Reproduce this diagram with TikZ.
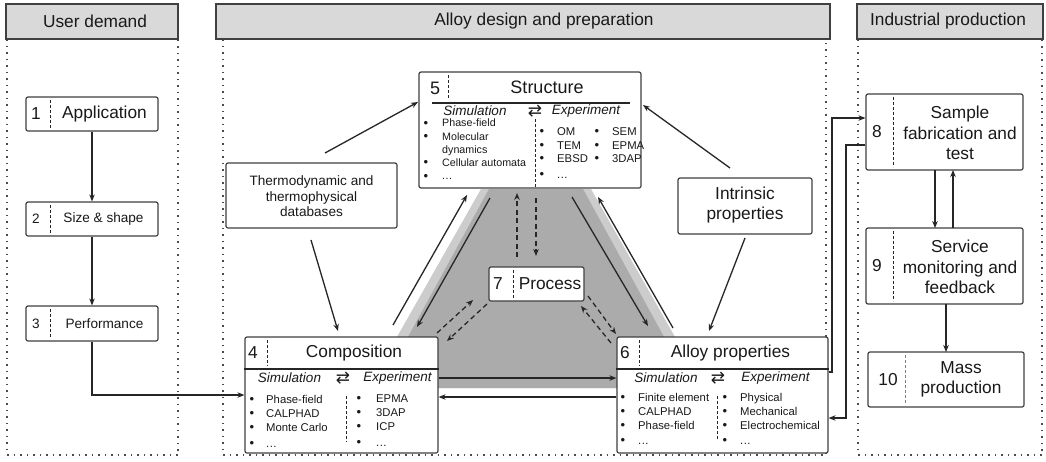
\documentclass[tikz,border=0pt]{standalone}
\usepackage{fontspec}
\setmainfont{Liberation Sans}
\newfontfamily\symfnt{DejaVu Sans}
\usetikzlibrary{arrows.meta,calc}
\newcommand\fsT{\fontsize{17.3}{20.5}\selectfont}
\newcommand\fsM{\fontsize{13.6}{15.5}\selectfont}
\newcommand\fsL{\fontsize{11.3}{13}\selectfont}
\newcommand\fsLs{\fontsize{10.7}{12}\selectfont}
\newcommand\fsS{\fontsize{13.5}{15.5}\selectfont\itshape}
\newcommand\mydots{.\kern0.5pt.\kern0.5pt.}
\begin{document}
\begin{tikzpicture}[x=1pt,y=-1pt,
  box/.style={draw=black!75,line width=1.2pt,rounded corners=2pt,fill=white,inner sep=0pt},
  hdr/.style={draw=black!75,line width=1.2pt,fill=gray!30,inner sep=0pt,minimum height=35pt},
  arr/.style={-{Stealth[length=7pt,width=5.5pt]},line width=1.3pt,black!85},
  darr/.style={arr,dash pattern=on 5pt off 3.5pt},
  sepl/.style={black!85,line width=0.9pt,dash pattern=on 3pt off 2pt},
  dots/.style={black!70,line width=1.5pt,dash pattern=on 1.5pt off 5pt},
  txt/.style={inner sep=0pt,text=black!90},
  lt/.style={txt,anchor=west,text height=8pt,text depth=2pt,font=\fsL},
  lts/.style={txt,anchor=west,text height=7.5pt,text depth=2pt,font=\fsLs},
  bul/.style={txt,font=\fontsize{13}{13}\selectfont},
  tt/.style={txt,font=\fsT},
  sim/.style={txt,font=\fsS},
  arrsym/.style={txt,font=\symfnt\fontsize{17}{17}\selectfont}
]
\useasboundingbox (0,0) rectangle (1046,461);
\fill[white] (0,0) rectangle (1046,461);

% gray band
\fill[gray!40] (481,189) -- (591,189) -- (704,388) -- (368,388) -- cycle;
\fill[gray!66] (489,189) -- (583,189) -- (692,388) -- (380,388) -- cycle;

% dotted columns
\draw[dots] (7,39) -- (7,455) -- (178,455) -- (178,39);
\draw[dots] (223,39) -- (223,455) -- (826,455) -- (826,39);
\draw[dots] (858,39) -- (858,455) -- (1042,455) -- (1042,39);

% headers
\node[hdr,minimum width=172pt] (h1) at (92,21.5) {};
\node[tt] (h1t) at (95,21.5) {User demand};
\node[hdr,minimum width=614pt] (h2) at (523,21.5) {};
\node[tt] (h2t) at (544,21.5) {Alloy design and preparation};
\node[hdr,minimum width=186pt] (h3) at (950,21.5) {};
\node[tt] (h3t) at (948,21.5) {Industrial production};

% user demand boxes
\node[box,minimum width=132pt,minimum height=34pt] (b1) at (92,114) {};
\node[tt] (b1n) at (36,114) {1};
\draw[sepl] (50,100) -- (50,128);
\node[tt] (b1t) at (104.5,114) {Application};

\node[box,minimum width=132pt,minimum height=34pt] (b2) at (92,219) {};
\node[txt,font=\fsM] (b2n) at (36,219) {2};
\draw[sepl] (50,205) -- (50,233);
\node[txt,font=\fsM] (b2t) at (103.5,219) {Size \& shape};

\node[box,minimum width=132pt,minimum height=35pt] (b3) at (92,323.5) {};
\node[txt,font=\fsM] (b3n) at (36,323.5) {3};
\draw[sepl] (50,309) -- (50,338);
\node[txt,font=\fsM] (b3t) at (104.5,323.5) {Performance};

% thermo box
\node[box,minimum width=171pt,minimum height=65pt] (th) at (311.5,195.5) {};
\node[txt,font=\fsM,align=center] (tht) at (311.5,196.5) {Thermodynamic and\\thermophysical\\databases};

% intrinsic
\node[box,minimum width=134pt,minimum height=56pt] (ip) at (745,206) {};
\node[tt,align=center] (ipt) at (745,205) {Intrinsic\\properties};

% structure box
\node[box,minimum width=222pt,minimum height=116pt] (st) at (530,130) {};
\node[txt,font=\fontsize{18}{20}\selectfont] (stn) at (435,88) {5};
\draw[sepl] (448,75) -- (448,98);
\node[txt,font=\fontsize{18}{20}\selectfont] (stt) at (547,87) {Structure};
\draw[black!85,line width=1.1pt] (432,103) -- (630,103);
\node[sim] (sts) at (475,111) {Simulation};
\node[arrsym] (sta) at (535,111) {⇄};
\node[sim] (ste) at (586,111) {Experiment};
\draw[sepl] (535,119) -- (535,187);
\foreach \y/\t/\b [count=\i] in {124/Phase-field/1,137.5/Molecular/1,150.5/dynamics/0,163.5/Cellular automata/1,177/\mydots/1}{
  \node[lts] (stl\i) at (442,\y) {\t};
  \ifnum\b=1 \node[bul] (stb\i) at (426,\y) {•};\fi
}
\foreach \y/\t [count=\i] in {132/OM,146/TEM,159/EBSD,175/\mydots}{
  \node[lt] (str\i) at (557,\y) {\t};
  \node[bul] (strb\i) at (542,\y) {•};
}
\foreach \y/\t [count=\i] in {132/SEM,146/EPMA,159/3DAP}{
  \node[lt] (sts\i) at (612,\y) {\t};
  \node[bul] (stsb\i) at (597,\y) {•};
}

% process box
\node[box,minimum width=95pt,minimum height=34pt] (pr) at (536.5,284) {};
\node[tt] (prn) at (498,284) {7};
\draw[sepl] (513,270) -- (513,298);
\node[tt] (prt) at (550,284) {Process};

% composition box
\node[box,minimum width=193pt,minimum height=116pt] (co) at (341.5,395) {};
\node[tt] (con) at (253,353) {4};
\draw[sepl] (267,340) -- (267,366);
\node[tt] (cot) at (354,353) {Composition};
\draw[black!85,line width=1.1pt] (co.west |- 0,369) -- (co.east |- 0,369);
\node[sim] (cos) at (289.5,378) {Simulation};
\node[arrsym] (coa) at (343,378) {⇄};
\node[sim] (coe) at (397.5,378) {Experiment};
\draw[sepl] (346,396) -- (346,442);
\foreach \y/\t [count=\i] in {400/Phase-field,414/CALPHAD,428/Monte Carlo,444/\mydots}{
  \node[lt] (col\i) at (266,\y) {\t};
  \node[bul] (colb\i) at (252,\y) {•};
}
\foreach \y/\t [count=\i] in {399/EPMA,413/3DAP,427/ICP,443/\mydots}{
  \node[lt] (cor\i) at (376,\y) {\t};
  \node[bul] (corb\i) at (359,\y) {•};
}

% alloy properties box
\node[box,minimum width=211pt,minimum height=116pt] (al) at (722.5,395) {};
\node[tt] (aln) at (625,353) {6};
\draw[sepl] (639,340) -- (639,366);
\node[tt] (alt) at (730.5,353) {Alloy properties};
\draw[black!85,line width=1.1pt] (al.west |- 0,369) -- (al.east |- 0,369);
\node[sim] (als) at (666,378) {Simulation};
\node[arrsym] (ala) at (718,378) {⇄};
\node[sim] (ale) at (775.5,378) {Experiment};
\draw[sepl] (717,396) -- (717,440);
\foreach \y/\t [count=\i] in {398/Finite element,412/CALPHAD,426/Phase-field,441/\mydots}{
  \node[lt] (all\i) at (638,\y) {\t};
  \node[bul] (allb\i) at (623,\y) {•};
}
\foreach \y/\t [count=\i] in {398/Physical,412/Mechanical,426/Electrochemical,441/\mydots}{
  \node[lt] (alr\i) at (740,\y) {\t};
  \node[bul] (alrb\i) at (725,\y) {•};
}

% industrial boxes
\node[box,minimum width=157pt,minimum height=76pt] (b8) at (944.5,132) {};
\node[tt] (b8n) at (877,132) {8};
\draw[sepl] (893,97) -- (893,167);
\node[tt,align=center] (b8t) at (960,133) {Sample\\fabrication and\\test};

\node[box,minimum width=157pt,minimum height=76pt] (b9) at (944.5,266) {};
\node[tt] (b9n) at (877,266) {9};
\draw[sepl] (893,231) -- (893,301);
\node[tt,align=center] (b9t) at (960,267) {Service\\monitoring and\\feedback};

\node[box,minimum width=156pt,minimum height=55pt] (b10) at (946,379.5) {};
\node[tt] (b10n) at (888,379.5) {10};
\draw[sepl,black!50] (905,355) -- (905,404);
\node[tt,align=center] (b10t) at (961,379.5) {Mass\\production};

% connectors: user demand
\draw[arr] (b1.south) -- (b2.north);
\draw[arr] (b2.south) -- (b3.north);
\draw[arr] (b3.south) |- (co.west);

% thermo / intrinsic
\coordinate (thA) at (325,153);
\coordinate (stA) at (418,102);
\draw[arr] (thA) -- (stA);
\coordinate (thB) at (311,240);
\coordinate (coA) at (338,331);
\draw[arr] (thB) -- (coA);
\coordinate (ipA) at (730,168);
\coordinate (stB) at (643,105);
\draw[arr] (ipA) -- (stB);
\coordinate (ipB) at (745,238);
\coordinate (alA) at (709,331);
\draw[arr] (ipB) -- (alA);

% 4 <-> 5
\coordinate (c45a) at (393,325); \coordinate (c45b) at (467,195);
\draw[arr] (c45a) -- (c45b);
\coordinate (c54a) at (490,198); \coordinate (c54b) at (417,327);
\draw[arr] (c54a) -- (c54b);
% 5 <-> 6
\coordinate (c56a) at (572,197); \coordinate (c56b) at (648,326);
\draw[arr] (c56a) -- (c56b);
\coordinate (c65a) at (673,328); \coordinate (c65b) at (598,197);
\draw[arr] (c65a) -- (c65b);
% 5 <-> 7 dashed
\coordinate (c75a) at (517,257); \coordinate (c75b) at (517,193);
\draw[darr] (c75a) -- (c75b);
\coordinate (c57a) at (536,198); \coordinate (c57b) at (536,256);
\draw[darr] (c57a) -- (c57b);
% 7 <-> 4
\coordinate (c74a) at (437,333); \coordinate (c74b) at (473,300);
\draw[darr] (c74a) -- (c74b);
\coordinate (c47a) at (487,304); \coordinate (c47b) at (447,341);
\draw[darr] (c47a) -- (c47b);
% 7 <-> 6
\coordinate (c76a) at (588,296); \coordinate (c76b) at (616,334);
\draw[darr] (c76a) -- (c76b);
\coordinate (c67a) at (611,343); \coordinate (c67b) at (581,306);
\draw[darr] (c67a) -- (c67b);
% 4 <-> 6 horizontal
\draw[arr] (co.east |- 0,378) -- (al.west |- 0,378);
\draw[arr] (al.west |- 0,397) -- (co.east |- 0,397);

% 6 <-> 8
\coordinate (r1) at (832,372);
\draw[arr] (al.east |- r1) -- (r1) |- (b8.west |- 0,118);
\coordinate (r2) at (846,145);
\draw[arr] (b8.west |- r2) -- (r2) |- (al.east |- 0,418);

% 8 <-> 9, 9 -> 10
\draw[arr] (935,170) -- (935,228);
\draw[arr] (953,228) -- (953,170);
\draw[arr] (946,304) -- (946,352);
\end{tikzpicture}
\end{document}
